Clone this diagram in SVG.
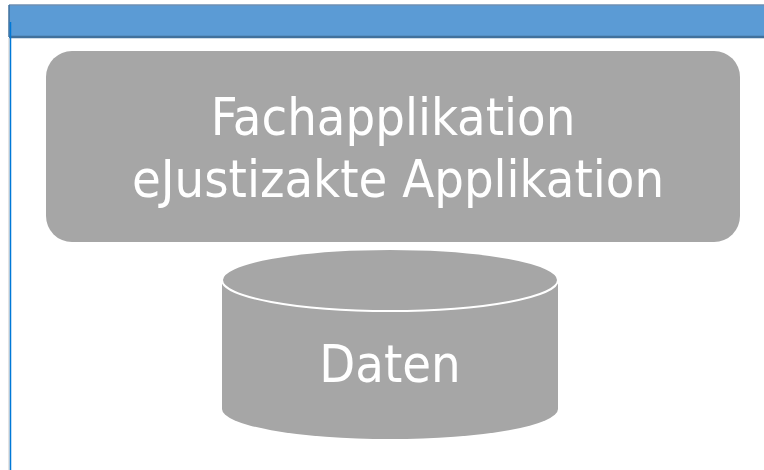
<svg xmlns="http://www.w3.org/2000/svg" width="764" height="470" viewBox="0 0 764 470">
<style>
.shape{fill:#A6A6A6}
.lbl{font-family:"DejaVu Sans Condensed","DejaVu Sans",sans-serif;font-stretch:condensed;font-size:52px;fill:#FFFFFF;text-anchor:middle}
</style>
<rect x="0" y="0" width="764" height="470" fill="#FFFFFF"/>
<g id="frame">
<rect x="9" y="5" width="760" height="33" fill="#5B9BD5"/>
<line x1="9" y1="5" x2="764" y2="5" stroke="#6E8FB3" stroke-width="1.5"/>
<line x1="9" y1="37" x2="764" y2="37" stroke="#41719C" stroke-width="2.5"/>
<line x1="9" y1="5" x2="9" y2="37" stroke="#41719C" stroke-width="1.5"/>
<line x1="9" y1="38" x2="9" y2="470" stroke="#C8C8C8" stroke-width="1"/>
<line x1="10.5" y1="22" x2="10.5" y2="470" stroke="#0078D7" stroke-width="1.5"/>
</g>
<g id="app">
<rect class="shape" x="46" y="51" width="694" height="191" rx="26" ry="26"/>
<text class="lbl" x="393" y="135">Fachapplikation</text>
<text class="lbl" x="398" y="197">eJustizakte Applikation</text>
</g>
<g id="daten">
<path class="shape" d="M222,280 L222,409 A168,30 0 0 0 558,409 L558,280 Z"/>
<ellipse class="shape" cx="390" cy="280" rx="168" ry="31" stroke="#FFFFFF" stroke-width="2"/>
<text class="lbl" x="390" y="382">Daten</text>
</g>
<g id="connectors"></g>
</svg>
